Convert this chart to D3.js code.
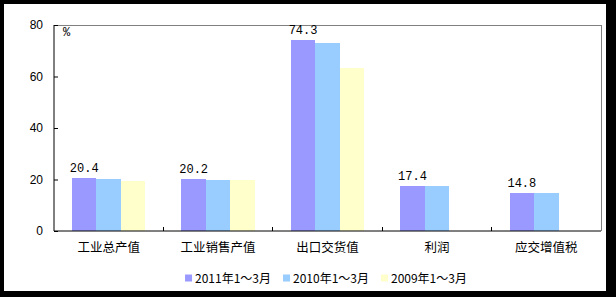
<!DOCTYPE html>
<html><head><meta charset="utf-8">
<script src="https://cdn.jsdelivr.net/npm/d3@7/dist/d3.min.js"></script>
<style>body{margin:0;background:#000}svg{display:block}</style>
</head><body>
<script>
const categories = ["工业总产值","工业销售产值","出口交货值","利润","应交增值税"];
const seriesNames = ["2011年1～3月","2010年1～3月","2009年1～3月"];
const values2011 = [20.4, 20.2, 74.3, 17.4, 14.8];
const values2010 = [20.1, 19.8, 73.1, 17.4, 14.8];
const values2009 = [19.3, 19.9, 63.3, null, null];
const labels2011 = ["20.4","20.2","74.3","17.4","14.8"];
const yTicks = [0, 20, 40, 60, 80];
const colors = ["#9999FF","#99CCFF","#FFFFCC"];

const W = 616, H = 297;
const svg = d3.select("body").append("svg").attr("width", W).attr("height", H);
svg.append("rect").attr("width", W).attr("height", H).attr("fill", "#000");
svg.append("rect").attr("x", 4).attr("y", 4).attr("width", 602).attr("height", 287).attr("fill", "#fff");

const L = 54, R = 601, T = 25, B = 231;
const x = d3.scaleBand().domain(categories).range([L, R]).paddingInner(0).paddingOuter(0);
const xs = d3.scaleBand().domain(seriesNames).range([0, x.bandwidth()]).paddingInner(0).paddingOuter(0.74);
const y = d3.scaleLinear().domain([0, 80]).range([B, T]);

// frame (top/right gray)
svg.append("path").attr("d", `M${L},${T}H${R}V${B}`).attr("fill", "none").attr("stroke", "#808080").attr("stroke-width", 1).attr("shape-rendering","crispEdges");

const allSeries = [values2011, values2010, values2009];
allSeries.forEach((vals, si) => {
  svg.append("g").selectAll("rect").data(categories.map((c, i) => ({c, v: vals[i]})).filter(d => d.v != null))
    .enter().append("rect")
    .attr("x", d => x(d.c) + xs(seriesNames[si]))
    .attr("width", xs.bandwidth())
    .attr("y", d => y(d.v))
    .attr("height", d => B - y(d.v))
    .attr("fill", colors[si])
    .attr("shape-rendering","crispEdges");
});

// data labels for 2011
svg.append("g").selectAll("text").data(categories.map((c, i) => ({c, v: values2011[i], t: labels2011[i]})))
  .enter().append("text")
  .attr("x", d => x(d.c) + xs(seriesNames[0]) + xs.bandwidth() / 2)
  .attr("y", d => y(d.v) - 6)
  .attr("text-anchor", "middle")
  .attr("font-family", "Liberation Mono, monospace")
  .attr("font-size", 12)
  .attr("fill", "#000")
  .text(d => d.t);

// y axis
const yAxis = d3.axisLeft(y).tickValues(yTicks).tickSize(-4).tickPadding(11).tickFormat(d3.format("d"));
const gy = svg.append("g").attr("transform", `translate(${L},0)`).call(yAxis);
gy.select(".domain").attr("stroke", "#000").attr("d", `M0,${T}V${B}`);
gy.selectAll(".tick line").attr("stroke", "#000");
gy.selectAll("text").attr("font-family", "Liberation Sans, Arial, sans-serif").attr("font-size", 12).attr("fill", "#000");

// x axis
const xAxis = d3.axisBottom(x).tickSize(0).tickPadding(12);
const gx = svg.append("g").attr("transform", `translate(0,${B})`).call(xAxis);
gx.select(".domain").attr("stroke", "#000").attr("d", `M${L},0H${R}`);
gx.selectAll("text").attr("font-family", "Noto Sans CJK SC, sans-serif").attr("font-size", 12.5).attr("fill", "#000");
// category boundary ticks (inside)
svg.append("g").selectAll("line").data(categories.slice(1)).enter().append("line")
  .attr("x1", d => x(d)).attr("x2", d => x(d)).attr("y1", B).attr("y2", B - 4)
  .attr("stroke", "#000").attr("shape-rendering","crispEdges");

// unit label
svg.append("text").attr("x", 63).attr("y", 36).attr("font-family", "Liberation Mono, monospace").attr("font-size", 12).text("%");

// legend
const lg = svg.append("g");
let cx = 0;
const items = [];
seriesNames.forEach((s, i) => {
  const g = lg.append("g");
  g.append("rect").attr("x", 0).attr("y", -3.5).attr("width", 7).attr("height", 7).attr("fill", colors[i]);
  const t = g.append("text").attr("x", 10).attr("y", 4.5).attr("font-family", "Noto Sans CJK SC, sans-serif").attr("font-size", 12).text(s);
  const w = 10 + t.node().getComputedTextLength();
  g.attr("transform", `translate(${cx},0)`);
  cx += w + 12;
});
const total = cx - 12;
lg.attr("transform", `translate(${326 - total / 2},278)`);
</script>
</body></html>
